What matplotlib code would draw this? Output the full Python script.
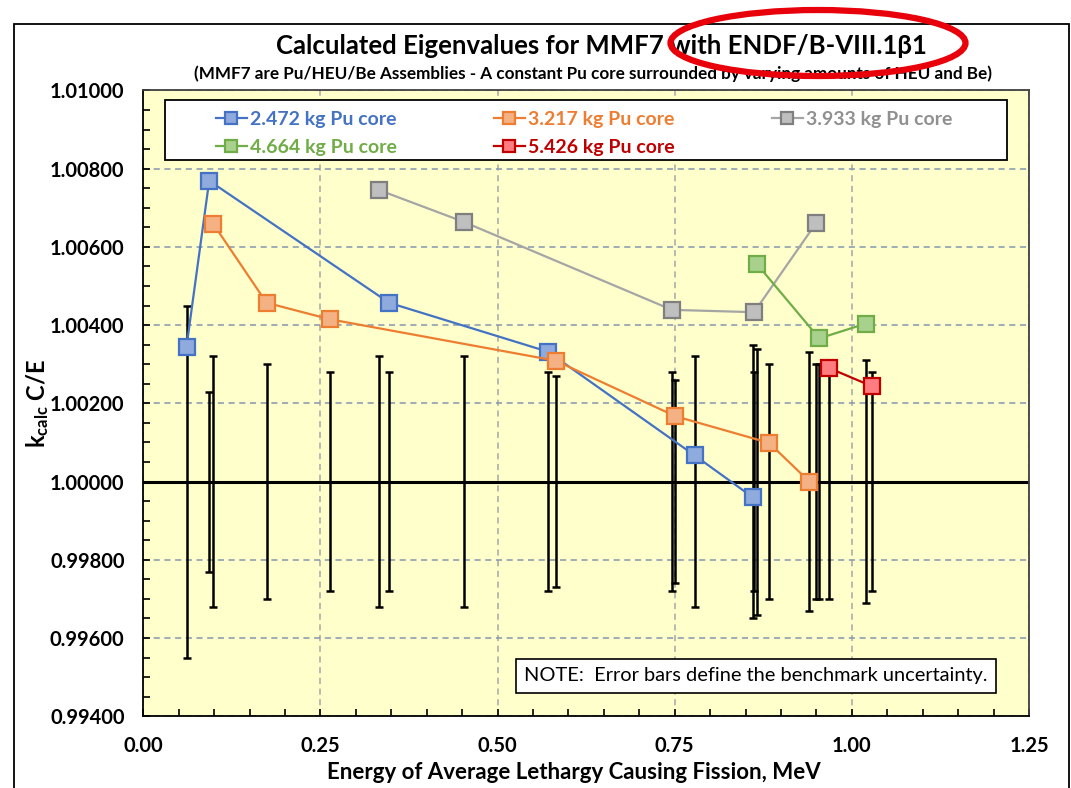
import matplotlib
matplotlib.use("Agg")
import matplotlib.pyplot as plt
import matplotlib.patches as patches
from matplotlib.ticker import MultipleLocator, FormatStrFormatter
import numpy as np

plt.rcParams['font.family'] = ['Lato', 'DejaVu Sans']
plt.rcParams['mathtext.fontset'] = 'custom'
plt.rcParams['mathtext.rm'] = 'Lato'
plt.rcParams['mathtext.bf'] = 'Lato:bold'

# series: (energy MeV, k C/E, benchmark unc)
blue_x = [0.061, 0.093, 0.347, 0.571, 0.778, 0.860]
blue_y = [1.00345, 1.00769, 1.00457, 1.00332, 1.00067, 0.99960]
blue_u = [0.0045, 0.0023, 0.0028, 0.0028, 0.0032, 0.0035]

orange_x = [0.099, 0.174, 0.263, 0.582, 0.751, 0.883, 0.940]
orange_y = [1.00658, 1.00457, 1.00415, 1.00309, 1.00167, 1.00099, 1.00000]
orange_u = [0.0032, 0.0030, 0.0028, 0.0027, 0.0026, 0.0030, 0.0033]

gray_x = [0.333, 0.452, 0.746, 0.862, 0.950]
gray_y = [1.00745, 1.00664, 1.00439, 1.00433, 1.00662]
gray_u = [0.0032, 0.0032, 0.0028, 0.0028, 0.0030]

green_x = [0.866, 0.954, 1.020]
green_y = [1.00556, 1.00366, 1.00404]
green_u = [0.0034, 0.0030, 0.0031]

red_x = [0.968, 1.028]
red_y = [1.00290, 1.00244]
red_u = [0.0030, 0.0028]

labels = ['2.472 kg Pu core', '3.217 kg Pu core', '3.933 kg Pu core',
          '4.664 kg Pu core', '5.426 kg Pu core']

fig = plt.figure(figsize=(10.71, 7.88), dpi=100)
ax = fig.add_axes([0.1338, 0.0910, 0.8270, 0.7943])
ax.set_facecolor('#FFFFCC')

# chart outer frame
fig.patches.append(patches.Rectangle((14 / 1071, -0.05), 1055 / 1071, 1 - 24 / 788 + 0.05,
                                     transform=fig.transFigure, fill=False,
                                     edgecolor='black', linewidth=1.3))

series = [
    (blue_x, blue_y, blue_u, '#4472C4', '#8FAADC', '#4472C4'),
    (orange_x, orange_y, orange_u, '#ED7D31', '#F4B183', '#ED7D31'),
    (gray_x, gray_y, gray_u, '#A5A5A5', '#BFBFBF', '#7F7F7F'),
    (green_x, green_y, green_u, '#70AD47', '#A9D18E', '#70AD47'),
    (red_x, red_y, red_u, '#C00000', '#FF7C80', '#C00000'),
]

# error bars about 1.0
for xs, ys, us, lc, fc, ec in series:
    ax.errorbar(xs, np.ones(len(xs)), yerr=us, fmt='none', ecolor='black',
                elinewidth=1.8, capsize=3, capthick=1.8, zorder=3)

ax.axhline(1.0, color='black', linewidth=2.2, zorder=2.5)

handles = []
for (xs, ys, us, lc, fc, ec), lab in zip(series, labels):
    h, = ax.plot(xs, ys, color=lc, linewidth=1.6, marker='s', markersize=11,
                 markerfacecolor=fc, markeredgecolor=ec, markeredgewidth=1.6,
                 label=lab, zorder=4)
    handles.append(h)

ax.set_xlim(0, 1.25)
ax.set_ylim(0.994, 1.010)
ax.xaxis.set_major_locator(MultipleLocator(0.25))
ax.xaxis.set_minor_locator(MultipleLocator(0.05))
ax.yaxis.set_major_locator(MultipleLocator(0.002))
ax.yaxis.set_minor_locator(MultipleLocator(0.0005))
ax.xaxis.set_major_formatter(FormatStrFormatter('%.2f'))
ax.yaxis.set_major_formatter(FormatStrFormatter('%.5f'))
ax.tick_params(which='both', direction='in', length=5, width=1.2, top=False, right=False)
ax.tick_params(axis='y', which='major', labelsize=14.5, pad=13.5)
ax.tick_params(axis='x', which='major', labelsize=14.5, pad=14)
for t in ax.get_xticklabels() + ax.get_yticklabels():
    t.set_fontweight('bold')

ax.grid(axis='y', which='major', color='#8497B0', linestyle=(0, (4, 3)), linewidth=1.1, zorder=1)
ax.grid(axis='x', which='major', color='#A6A6A6', linestyle=(0, (4, 3)), linewidth=1.1, zorder=1)
ax.set_axisbelow(True)
for s in ax.spines.values():
    s.set_color('#404040')
    s.set_linewidth(1.3)
ax.spines['left'].set_color('black')
ax.spines['bottom'].set_color('black')

ax.set_xlabel('Energy of Average Lethargy Causing Fission, MeV', fontsize=16,
              fontweight='bold', va='center')
ax.xaxis.set_label_coords(0.486, -0.0906)
ax.set_ylabel(r'$\mathbf{k_{calc}}$ C/E', fontsize=17, fontweight='bold', va='center')
ax.yaxis.set_label_coords(-0.119, 0.5)

fig.text(0.562, 0.941, 'Calculated Eigenvalues for MMF7 with ENDF/B-VIII.1\u03b21',
         ha='center', va='center', fontsize=18.5, fontweight='bold')
fig.text(0.554, 0.907, '(MMF7 are Pu/HEU/Be Assemblies - A constant Pu core surrounded by varying amounts of HEU and Be)',
         ha='center', va='center', fontsize=12.3, fontweight='bold')

# legend box
x0 = (165 - 143.3) / 885.7
x1 = (1007 - 143.3) / 885.7
yt = (716.3 - 100) / 625.9
yb = (716.3 - 160) / 625.9
ax.add_patch(patches.Rectangle((x0, yb), x1 - x0, yt - yb, transform=ax.transAxes,
                               facecolor='white', edgecolor='black', linewidth=1.3, zorder=5))
order = [0, 3, 1, 4, 2]
leg = ax.legend([handles[i] for i in order], [labels[i] for i in order], ncol=3,
                loc='upper left', bbox_to_anchor=((200 - 143.3) / 885.7, yt + 0.008),
                frameon=False, fontsize=14, handlelength=1.6, handletextpad=0.15,
                columnspacing=5.0, labelspacing=0.6, borderpad=0.3, markerscale=0.75)
leg.set_zorder(6)
for txt, i in zip(leg.get_texts(), order):
    txt.set_color(series[i][3] if i != 2 else '#909090')
    txt.set_fontweight('bold')

# note box
ax.text((524 - 143.3) / 885.7, (716.3 - 676) / 625.9,
        'NOTE:  Error bars define the benchmark uncertainty.', transform=ax.transAxes,
        ha='left', va='center', fontsize=14.4, zorder=6,
        bbox=dict(boxstyle='square,pad=0.42', facecolor='white', edgecolor='black', linewidth=1.2))

# red highlight ellipse
fig.patches.append(patches.Ellipse((818 / 1071, 1 - 43 / 788), 295 / 1071, 66 / 788,
                                   transform=fig.transFigure, fill=False,
                                   edgecolor='#E8000B', linewidth=4.5, zorder=10))

fig.savefig('out.png', dpi=100)
